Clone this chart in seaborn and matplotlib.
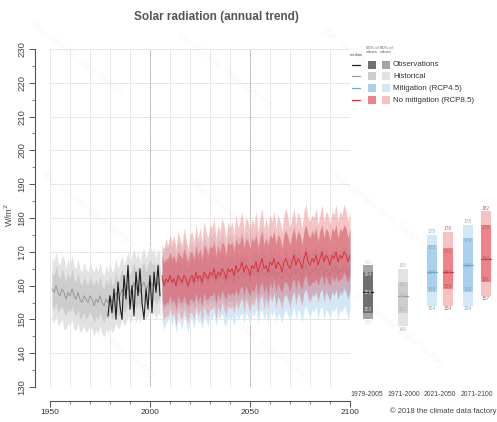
import numpy as np
import pandas as pd
import matplotlib
matplotlib.use("Agg")
import matplotlib.pyplot as plt
import seaborn as sns
from matplotlib.patches import Rectangle
from matplotlib.lines import Line2D

# ---------------- data ----------------
hist_years = list(range(1951, 2006))
hist_med = [159,158,160,158,157,159,158,156,158,157,
            159,157,156,158,156,155,157,156,155,157,
            156,154,156,155,157,155,154,156,155,157,
            155,156,158,156,157,159,157,158,160,158,
            159,161,159,160,158,160,161,159,160,162,
            160,161,159,161,160]
hist_in_lo = [154,153,155,152,153,154,152,151,153,152,
              154,152,151,153,150,151,152,150,151,152,
              151,149,151,150,152,150,149,151,150,152,
              150,151,153,151,152,154,152,153,155,153,
              154,156,153,155,153,155,156,154,155,157,
              155,156,154,156,155]
hist_in_hi = [164,163,166,163,162,165,163,161,164,162,
              165,162,161,164,161,160,163,161,160,163,
              161,160,162,160,163,160,159,162,160,163,
              160,161,164,161,163,165,162,164,166,163,
              165,167,164,166,163,166,167,164,166,168,
              166,167,164,167,165]
hist_out_lo = [150,149,151,148,149,150,147,147,149,148,
               150,147,147,149,146,147,148,146,147,148,
               147,145,147,146,148,146,145,147,146,148,
               146,147,149,147,148,150,148,149,151,149,
               150,152,149,151,149,151,152,150,151,153,
               151,152,150,152,151]
hist_out_hi = [168,167,170,167,166,169,168,165,168,166,
               169,166,165,168,165,164,167,165,164,167,
               165,164,166,164,167,164,163,166,164,167,
               164,165,168,165,167,169,166,168,170,167,
               169,171,168,170,167,170,171,168,170,172,
               170,171,168,171,169]

obs_years = list(range(1979, 2006))
obs_vals = [151,157,152,159,150,161,154,150,163,156,166,153,160,151,
            164,157,165,155,150,159,153,163,152,164,158,166,157]

proj_years = list(range(2006, 2101))
rcp85_med = [163,160,162,161,163,
             161,162,160,163,162,161,163,162,160,162,
             163,161,164,162,163,161,164,163,162,164,
             163,165,162,164,163,165,164,162,165,164,
             165,163,166,164,165,167,164,166,165,163,
             166,165,167,164,166,168,165,166,164,167,
             166,168,165,167,166,164,167,168,166,165,
             167,169,166,168,167,165,168,170,167,166,
             168,167,169,166,168,170,167,169,168,166,
             169,168,170,167,169,168,170,169,167,169]
rcp85_in_lo = [156,154,155,155,157,
               155,156,153,157,155,155,157,155,154,156,
               156,155,158,155,157,154,158,156,156,157,
               157,158,155,158,156,159,157,156,158,157,
               158,157,159,157,159,160,157,160,158,157,
               159,158,161,157,160,161,158,160,157,161,
               159,162,158,161,159,158,161,161,160,158,
               161,162,159,162,160,159,162,163,160,160,
               161,161,162,160,162,163,160,163,161,160,
               163,161,163,161,162,162,164,162,161,163]
rcp85_in_hi = [169,167,168,168,170,
               168,169,167,170,169,168,171,169,167,170,
               170,168,172,169,171,168,172,171,169,172,
               171,173,169,172,170,173,172,169,173,172,
               173,170,174,172,173,175,171,174,173,171,
               174,173,175,171,174,176,172,174,172,175,
               174,176,172,175,174,171,175,176,174,172,
               175,177,173,176,175,172,176,178,175,174,
               176,175,177,173,176,178,174,177,176,173,
               177,176,178,174,177,176,178,177,174,177]
rcp85_out_lo = [152,150,151,151,153,
                151,152,148,153,151,150,153,151,149,152,
                152,150,154,151,153,149,154,152,151,153,
                153,154,150,154,152,155,153,151,154,153,
                154,152,155,153,155,156,152,156,154,152,
                155,154,157,152,156,157,153,156,153,157,
                155,158,153,157,155,153,157,157,156,153,
                157,158,154,158,156,154,158,159,156,155,
                157,157,158,155,158,159,155,159,157,155,
                159,157,159,156,158,158,160,158,156,159]
rcp85_out_hi = [172,171,174,172,175,
                173,175,171,176,174,172,177,174,171,175,
                176,173,178,174,177,173,179,176,174,178,
                177,180,174,178,176,180,178,174,179,177,
                179,175,181,177,179,182,176,180,179,176,
                180,178,182,176,180,183,177,180,177,181,
                179,182,177,181,179,176,181,183,180,177,
                180,183,178,182,180,177,182,184,180,179,
                181,180,183,178,181,184,179,182,181,178,
                182,181,184,179,182,181,184,182,179,182]

rcp45_med = [162,160,161,161,162,
             160,162,159,162,161,160,162,161,159,161,
             162,160,163,161,162,160,163,162,161,163,
             162,163,161,163,162,164,162,161,163,162,
             163,161,164,162,163,164,162,164,163,161,
             164,163,165,162,164,165,163,164,162,165,
             163,165,162,164,163,162,164,165,163,162,
             164,166,163,165,164,162,165,166,164,163,
             165,164,166,163,165,166,163,165,164,163,
             165,164,166,163,165,164,166,165,163,165]
rcp45_in_lo = [155,153,154,154,155,
               153,155,152,155,154,153,155,154,152,154,
               155,153,156,154,155,153,156,155,154,156,
               155,156,154,156,155,157,155,154,156,155,
               156,154,157,155,156,157,155,157,156,154,
               157,156,158,155,157,158,156,157,155,158,
               156,158,155,157,156,155,157,158,156,155,
               157,159,156,158,157,155,158,159,157,156,
               158,157,159,156,158,159,156,158,157,156,
               158,157,159,156,158,157,159,158,156,158]
rcp45_in_hi = [168,166,167,167,168,
               166,168,165,168,167,166,168,167,165,167,
               168,166,169,167,168,166,169,168,167,169,
               168,169,167,169,168,170,168,167,169,168,
               169,167,170,168,169,170,168,170,169,167,
               170,169,171,168,170,171,169,170,168,171,
               169,171,168,170,169,168,170,171,169,168,
               170,172,169,171,170,168,171,172,170,169,
               171,170,172,169,171,172,169,171,170,169,
               171,170,172,169,171,170,172,171,169,171]
rcp45_out_lo = [150,147,149,150,151,
                148,151,146,150,149,147,151,149,146,150,
                150,147,152,149,150,147,151,150,148,151,
                150,152,148,151,150,152,149,148,151,150,
                151,148,152,150,151,152,149,152,151,148,
                152,151,153,149,152,153,150,152,149,153,
                151,153,149,152,151,149,152,153,151,149,
                152,154,150,153,152,149,153,154,152,150,
                153,152,154,150,153,154,150,153,152,150,
                153,152,154,150,153,152,154,153,150,153]
rcp45_out_hi = [171,170,172,171,173,
                171,173,169,173,172,170,174,172,169,172,
                173,170,175,172,174,170,175,173,171,175,
                174,176,171,175,173,176,174,171,175,174,
                175,172,176,174,175,177,173,176,175,172,
                176,174,177,172,176,178,173,176,173,177,
                174,177,173,176,175,172,176,177,175,173,
                176,178,174,177,176,173,177,178,176,174,
                177,176,178,174,177,178,174,177,176,174,
                177,176,178,174,177,176,178,177,174,177]

# box stats: [outer low, inner low, median, inner high, outer high]
box_obs = [150, 152, 158, 164, 166]
box_hist = [148, 152, 157, 161, 165]
box_rcp45_mid = [154, 158, 164, 172, 175]
box_rcp85_mid = [154, 159, 164, 171, 176]
box_rcp45_end = [154, 158, 166, 174, 178]
box_rcp85_end = [157, 161, 168, 178, 182]
period_labels = ["1979-2005", "1971-2000", "2021-2050", "2071-2100"]

x_tick_years = [1950, 2000, 2050, 2100]
x_tick_labels = ["1950", "2000", "2050", "2100"]
y_ticks = list(range(130, 231, 10))

legend_names = ["Observations", "Historical", "Mitigation (RCP4.5)", "No mitigation (RCP8.5)"]

# ---------------- style ----------------
sns.set_theme(style="white")
FONT = ['Liberation Sans', 'DejaVu Sans']
plt.rcParams['font.family'] = FONT

C = {
    'obs': dict(line='#1e1e1e', inner='#6f6f6f', outer='#a5a5a5', text='#dddddd'),
    'hist': dict(line='#9b9b9b', inner='#cdcdcd', outer='#e3e3e3', text='#b5b5b5'),
    'rcp45': dict(line='#6aa8d4', inner='#a9d1ee', outer='#d3e8f6', text='#7fa9c8'),
    'rcp85': dict(line='#d8323c', inner='#ee8288', outer='#f7c2c2', text='#c15a5a'),
}

W, H = 497, 422
fig = plt.figure(figsize=(W / 100, H / 100), dpi=100)
fig.patch.set_facecolor('white')

def fx(px):
    return px / W

def fy(py):
    return 1 - py / H

# ---------------- faint watermark (fully inside the figure) ----------------
for wx, wy in [(30, 20), (175, 30), (320, 25), (40, 170), (190, 180), (330, 170),
               (60, 300), (210, 300), (350, 290)]:
    fig.text(fx(wx), fy(wy), 'the climate data factory', rotation=-38, fontsize=8,
             color='#b09090', alpha=0.07, ha='left', va='top', zorder=20)

ax = fig.add_axes([fx(50), fy(387), 300 / W, 338 / H])
ax.set_facecolor('white')
ax.set_xlim(1950, 2100)
ax.set_ylim(130, 230)

# grid
ax.set_xticks(x_tick_years)
ax.set_xticklabels(x_tick_labels)
ax.set_xticks(list(range(1950, 2101, 10)), minor=True)
ax.set_yticks(y_ticks)
ax.set_yticks(list(range(135, 230, 10)), minor=True)
ax.grid(axis='x', which='both', color='#e4e4e4', lw=0.6)
ax.grid(axis='y', which='major', color='#e4e4e4', lw=0.6)
ax.set_axisbelow(True)
for xv in [2000, 2050, 2100]:
    ax.axvline(xv, color='#9a9a9a', lw=0.7, ls=(0, (1, 1.2)), zorder=1)

df_hist = pd.DataFrame({'year': hist_years, 'value': hist_med})
df_obs = pd.DataFrame({'year': obs_years, 'value': obs_vals})
df_45 = pd.DataFrame({'year': proj_years, 'value': rcp45_med})
df_85 = pd.DataFrame({'year': proj_years, 'value': rcp85_med})

# bands
ax.fill_between(hist_years, hist_out_lo, hist_out_hi, color=C['hist']['outer'], lw=0, zorder=2)
ax.fill_between(hist_years, hist_in_lo, hist_in_hi, color=C['hist']['inner'], lw=0, zorder=2)
ax.fill_between(proj_years, rcp45_out_lo, rcp45_out_hi, color=C['rcp45']['outer'], lw=0, zorder=2)
ax.fill_between(proj_years, rcp45_in_lo, rcp45_in_hi, color=C['rcp45']['inner'], lw=0, zorder=2)
sns.lineplot(data=df_45, x='year', y='value', ax=ax, color=C['rcp45']['line'], lw=0.7, zorder=2.5)
ax.fill_between(proj_years, rcp85_out_lo, rcp85_out_hi, color='#f08c8c', alpha=0.5, lw=0, zorder=3)
ax.fill_between(proj_years, rcp85_in_lo, rcp85_in_hi, color='#e0505a', alpha=0.5, lw=0, zorder=3)

sns.lineplot(data=df_hist, x='year', y='value', ax=ax, color='#8f8f8f', lw=0.6, zorder=4)
sns.lineplot(data=df_85, x='year', y='value', ax=ax, color=C['rcp85']['line'], lw=0.7, zorder=6)
sns.lineplot(data=df_obs, x='year', y='value', ax=ax, color=C['obs']['line'], lw=0.8, zorder=7)
ax.set_xlabel('')
ax.set_ylabel('')

# spines
for s in ['top', 'right']:
    ax.spines[s].set_visible(False)
ax.spines['left'].set_position(('outward', 11))
ax.spines['bottom'].set_position(('outward', 10))
ax.spines['left'].set_bounds(130, 230)
ax.spines['bottom'].set_bounds(1950, 2100)
for s in ['left', 'bottom']:
    ax.spines[s].set_color('#555555')
    ax.spines[s].set_linewidth(0.8)
ax.tick_params(axis='y', which='major', left=True, length=4, width=0.7, color='#555555',
               labelsize=6.8, labelcolor='#444444', pad=2, labelrotation=90)
ax.tick_params(axis='y', which='minor', left=True, length=2, width=0.5, color='#555555')
ax.tick_params(axis='x', which='major', bottom=True, length=4, width=0.7, color='#555555',
               labelsize=6, labelcolor='#333333', pad=2)
ax.tick_params(axis='x', which='minor', bottom=True, length=2.5, width=0.5, color='#555555')
for lbl in ax.get_yticklabels():
    lbl.set_va('center')

fig.text(fx(9), fy(215), 'W/m$^2$', rotation=90, ha='center', va='center',
         fontsize=6.5, color='#444444')

fig.text(fx(216), fy(17), 'Solar radiation (annual trend)', ha='center', va='center',
         fontsize=8.5, fontweight='bold', color='#555555')

# ---------------- right panel: period boxes ----------------
ax2 = fig.add_axes([fx(352), fy(387), 145 / W, 338 / H])
ax2.set_xlim(352, 497)
ax2.set_ylim(130, 230)
ax2.axis('off')

box_specs = [
    (368, box_obs, 'obs'),
    (403, box_hist, 'hist'),
    (432, box_rcp45_mid, 'rcp45'),
    (448, box_rcp85_mid, 'rcp85'),
    (468, box_rcp45_end, 'rcp45'),
    (486, box_rcp85_end, 'rcp85'),
]
bw = 10
for xc, st, key in box_specs:
    c = C[key]
    ax2.bar(xc, st[4] - st[0], bottom=st[0], width=bw, color=c['outer'], lw=0)
    ax2.bar(xc, st[3] - st[1], bottom=st[1], width=bw, color=c['inner'], lw=0)
    ax2.plot([xc - bw / 2, xc + bw / 2], [st[2], st[2]], color=c['line'], lw=0.9)
    tc = c['text']
    for v, dy in zip(st, [-0.9, 0.8, 0, -0.8, 0.9]):
        ax2.text(xc, v + dy, str(v), ha='center', va='center', fontsize=3.4, color=tc)

for xc, lab in zip([367, 404, 440, 477], period_labels):
    fig.text(fx(xc), fy(395), lab, ha='center', va='center', fontsize=4.9, color='#444444')

fig.text(fx(496), fy(411), '\u00a9 2018 the climate data factory', ha='right', va='center',
         fontsize=5.5, color='#444444')

# ---------------- legend ----------------
fig.text(fx(356), fy(55), 'median', ha='center', va='center', fontsize=3, color='#555555')
fig.text(fx(372), fy(50), '50% of\nvalues', ha='center', va='center', fontsize=3,
         color='#555555', linespacing=0.9)
fig.text(fx(386), fy(50), '80% of\nvalues', ha='center', va='center', fontsize=3,
         color='#555555', linespacing=0.9)
rows_y = [65, 76, 88, 100]
for ry, key, name in zip(rows_y, ['obs', 'hist', 'rcp45', 'rcp85'], legend_names):
    c = C[key]
    fig.add_artist(Line2D([fx(352), fx(360)], [fy(ry), fy(ry)], color=c['line'], lw=0.9))
    fig.add_artist(Rectangle((fx(368), fy(ry + 4)), 8 / W, 8 / H, color=c['inner'], lw=0))
    fig.add_artist(Rectangle((fx(382), fy(ry + 4)), 8 / W, 8 / H, color=c['outer'], lw=0))
    fig.text(fx(393), fy(ry), name, ha='left', va='center', fontsize=5.7, color='#333333')

fig.savefig('out.png', dpi=100, facecolor='white')
